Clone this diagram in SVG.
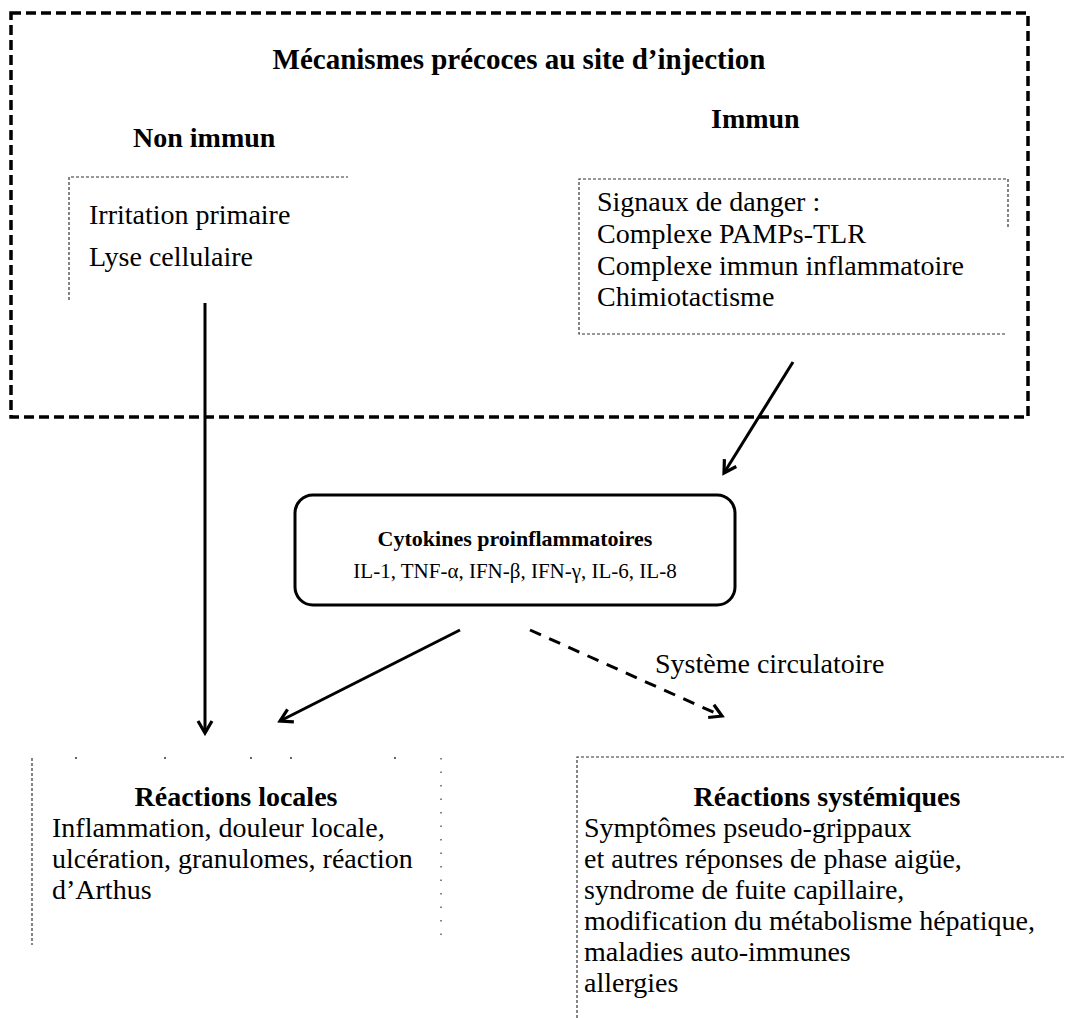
<svg xmlns="http://www.w3.org/2000/svg" width="1065" height="1018" viewBox="0 0 1065 1018">
<style>
text{font-family:"Liberation Serif","Times New Roman",serif;fill:#000}
.h{font-weight:bold;font-size:28px}
.t{font-size:28px}
.s{font-size:21px}
.dot{fill:none;stroke:#333;stroke-width:1.2;stroke-dasharray:3 2}
.pt{fill:#333}
.arr{fill:none;stroke:#000;stroke-width:3;marker-end:url(#ah)}
.dash{fill:none;stroke:#000;stroke-width:3;stroke-dasharray:12 9;marker-end:url(#ah)}
</style>
<defs>
<marker id="ah" markerUnits="userSpaceOnUse" viewBox="0 0 18 18" refX="15" refY="9" markerWidth="18" markerHeight="18" orient="auto">
<path d="M3,2 L15,9 L3,16" fill="none" stroke="#000" stroke-width="3.2" stroke-linejoin="miter"/>
</marker>
</defs>
<rect width="1065" height="1018" fill="#fff"/>

<g id="early-mechanisms">
<rect x="11" y="13" width="1017" height="404" fill="none" stroke="#000" stroke-width="3.5" stroke-dasharray="10 5"/>
<text class="h" x="519" y="69" text-anchor="middle" style="font-size:29px">Mécanismes précoces au site d’injection</text>
</g>

<g id="non-immun">
<text class="h" x="133" y="147">Non immun</text>
<path class="dot" d="M69,300 V177 H348"/>
<text class="t" x="89" y="224">Irritation primaire</text>
<text class="t" x="89" y="266">Lyse cellulaire</text>
</g>

<g id="immun">
<text class="h" x="711" y="128">Immun</text>
<path class="dot" d="M1008,227 V179 H579 V334 H1006"/>
<text class="t" x="597" y="211">Signaux de danger :</text>
<text class="t" x="597" y="243">Complexe PAMPs-TLR</text>
<text class="t" x="597" y="275">Complexe immun inflammatoire</text>
<text class="t" x="597" y="306">Chimiotactisme</text>
</g>

<g id="cytokines">
<rect x="295" y="495" width="440" height="110" rx="18" fill="none" stroke="#000" stroke-width="3"/>
<text class="s" x="515" y="546" text-anchor="middle" style="font-weight:bold;font-size:22px">Cytokines proinflammatoires</text>
<text class="s" x="515" y="578" text-anchor="middle">IL-1, TNF-α, IFN-β, IFN-γ, IL-6, IL-8</text>
</g>

<g id="local">
<circle class="pt" cx="76" cy="758" r="1"/>
<circle class="pt" cx="165" cy="758" r="1"/>
<circle class="pt" cx="251" cy="758" r="1"/>
<circle class="pt" cx="291" cy="758" r="1"/>
<circle class="pt" cx="395" cy="758" r="1"/>
<path class="dot" d="M32,758 V945"/>
<path class="dot" d="M441,758 V945" style="stroke-dasharray:1.5 12"/>
<text class="h" x="236" y="806" text-anchor="middle">Réactions locales</text>
<text class="t" x="52" y="837">Inflammation, douleur locale,</text>
<text class="t" x="52" y="868">ulcération, granulomes, réaction</text>
<text class="t" x="52" y="899">d’Arthus</text>
</g>

<g id="systemic">
<path class="dot" d="M577,1018 V757 H1065"/>
<text class="h" x="827" y="806" text-anchor="middle">Réactions systémiques</text>
<text class="t" x="584" y="837">Symptômes pseudo-grippaux</text>
<text class="t" x="584" y="868">et autres réponses de phase aigüe,</text>
<text class="t" x="584" y="899">syndrome de fuite capillaire,</text>
<text class="t" x="584" y="930">modification du métabolisme hépatique,</text>
<text class="t" x="584" y="961">maladies auto-immunes</text>
<text class="t" x="584" y="992">allergies</text>
</g>

<g id="connectors">
<line class="arr" x1="205" y1="303" x2="205" y2="733"/>
<line class="arr" x1="793" y1="362" x2="724" y2="473"/>
<line class="arr" x1="460" y1="630" x2="280" y2="721"/>
<line class="dash" x1="530" y1="630" x2="722" y2="716"/>
<text class="t" x="655" y="673">Système circulatoire</text>
</g>
</svg>
